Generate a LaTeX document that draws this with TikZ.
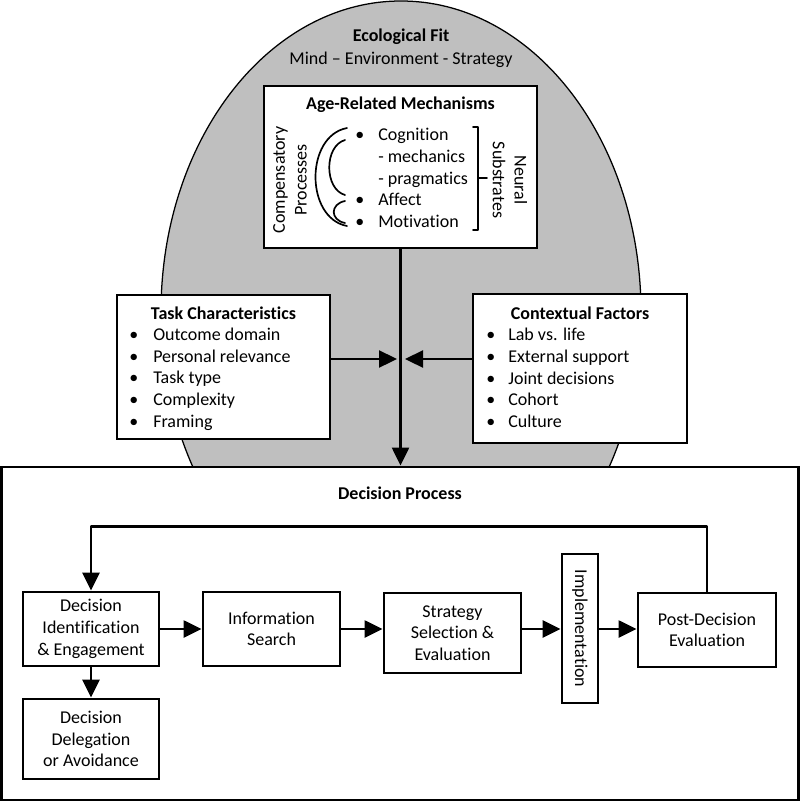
\documentclass[tikz,border=0pt]{standalone}
\usepackage{fontspec}
\setmainfont{Carlito}[Ligatures={TeX,NoCommon}]
\usepackage{tikz}
\usetikzlibrary{arrows.meta}
\definecolor{EcoGray}{RGB}{191,191,191}
\newcommand{\bul}[1]{\makebox[#1][l]{\textbullet}}

\begin{document}
\begin{tikzpicture}[line cap=round,line join=round,>={Triangle[length=12.8pt,width=12pt]},
  x=0.025cm,y=-0.025cm,font=\fontsize{12.8}{15.4}\selectfont,
  box/.style={draw,line width=2pt,line join=miter,fill=white,align=center,inner sep=0pt},
  list/.style={align=left,inner sep=0pt,anchor=west},
  conn/.style={->,line width=2pt},
  brace/.style={line width=1.2pt}]
  \useasboundingbox (0,0) rectangle (800,803);
  \draw [fill=EcoGray,line width=0.9pt] (401,312) ellipse [x radius=240,y radius=311];
  \node (ecoTitle) at (401,37) {\textbf{Ecological Fit}};
  \node (ecoSub) at (401,60) {Mind – Environment - Strategy};
  % decision process
  \node [box,minimum width=19.9cm,minimum height=8.325cm] (procBox) at (400,633.5) {};
  \node (procTitle) at (400,493) {\textbf{Decision Process}};
  \node [box,minimum width=3.4cm,minimum height=1.85cm] (idBox) at (91,629) {Decision\\Identification\\\& Engagement};
  \node [box,minimum width=3.425cm,minimum height=1.85cm] (infoBox) at (271.5,629) {Information\\Search};
  \node [box,minimum width=3.425cm,minimum height=2cm] (stratBox) at (452.5,633) {Strategy\\Selection \&\\Evaluation};
  \node [box,minimum width=0.9cm,minimum height=3.725cm] (implBox) at (580,628.5) {\rotatebox{-90}{Implementation}};
  \node [box,minimum width=3.45cm,minimum height=1.85cm] (postBox) at (707,630) {Post-Decision\\Evaluation};
  \node [box,minimum width=3.4cm,minimum height=2cm] (delegBox) at (91,739) {Decision\\Delegation\\or Avoidance};
  \draw [conn] (idBox.east) -- (infoBox.west);
  \draw [conn] (infoBox.east) -- (infoBox.east -| stratBox.west);
  \draw [conn] (stratBox.east |- infoBox.east) -- (implBox.west |- infoBox.east);
  \draw [conn] (implBox.east |- infoBox.east) -- (postBox.west |- infoBox.east);
  \draw [conn] (idBox.south) -- (delegBox.north);
  \draw [conn] (postBox.north) -- ++(0,-65) -| (idBox.north);
  % task and context
  \node [box,minimum width=5.325cm,minimum height=3.6cm] (taskBox) at (223.5,367) {};
  \node (taskTitle) at (223.5,313) {\textbf{Task Characteristics}};
  \node [list] (taskList) at (129,379) {\bul{0.6cm}Outcome domain\\\bul{0.6cm}Personal relevance\\\bul{0.6cm}Task type\\\bul{0.6cm}Complexity\\\bul{0.6cm}Framing};
  \node [box,minimum width=5.35cm,minimum height=3.725cm] (ctxBox) at (580,368.5) {};
  \node (ctxTitle) at (580,313) {\textbf{Contextual Factors}};
  \node [list] (ctxList) at (486,378) {\bul{0.55cm}Lab vs. life\\\bul{0.55cm}External support\\\bul{0.55cm}Joint decisions\\\bul{0.55cm}Cohort\\\bul{0.55cm}Culture};
  % age-related mechanisms
  \node [box,minimum width=6.825cm,minimum height=4.05cm] (ageBox) at (400.5,167) {};
  \node (ageTitle) at (400.5,105) {\textbf{Age-Related Mechanisms}};
  \node [list] (ageList) at (355,178) {\bul{0.575cm}Cognition\\\makebox[0.575cm]{}- mechanics\\\makebox[0.575cm]{}- pragmatics\\\bul{0.575cm}Affect\\\bul{0.575cm}Motivation};
  \node [rotate=90,align=center,inner sep=0pt] (compLbl) at (290,180) {Compensatory\\Processes};
  \node [rotate=-90,align=center,inner sep=0pt] (neuralLbl) at (510,180) {Neural\\Substrates};
  \draw [brace] (347,128) .. controls (305,136) and (305,218) .. (347,226);
  \draw [brace] (345,140) .. controls (324,146) and (324,189) .. (345,195);
  \draw [brace] (345,201) .. controls (330,204) and (330,220) .. (345,223);
  \draw [brace] (473,127) -- (478,127) -- (478,230) -- (473,230);
  \draw [brace] (478,178) -- (487,178);
  % into the decision process
  \coordinate (jL) at (397,359);
  \coordinate (jR) at (405,359);
  \draw [conn] (ageBox.south) -- (ageBox.south |- procBox.north);
  \draw [conn] (taskBox.east |- jL) -- (jL);
  \draw [conn] (ctxBox.west |- jR) -- (jR);
\end{tikzpicture}
\end{document}
